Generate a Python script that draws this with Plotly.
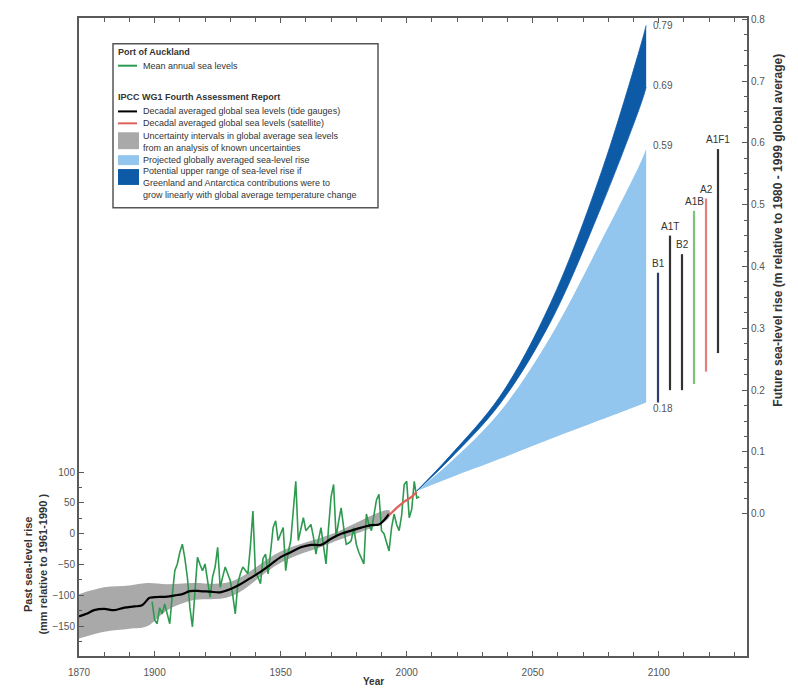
import plotly.graph_objects as go

# ---------------- data ----------------
# Port of Auckland, mean annual sea level (mm relative to 1961-1990)
auck_years = list(range(1899, 2006))
auck_levels = [
    -110, -140, -146, -120, -130, -114, -130, -146, -100, -60,   # 1899-1908
    -49, -30, -17, -40, -71, -120, -151, -90, -38, -50,          # 1909-1918
    -60, -49, -75, -103, -70, -54, -22, -87, -70, -54,           # 1919-1928
    -65, -76, -100, -130, -81, -65, -54, -60, -65, -20,          # 1929-1938
    37, -65, -70, -81, -40, -33, -65, -30, 10, 21,               # 1939-1948
    -11, 0, 10, -60, -30, -11, 40, 85, -11, 10,                  # 1949-1958
    26, 5, 10, 15, -5, -33, -10, 10, -20, -49,                   # 1959-1968
    10, 60, 80, -6, 20, 42, 10, -17, -15, -11,                   # 1969-1978
    10, -17, -30, -40, -49, 32, 15, 5, 30, 55,                   # 1979-1988
    64, 5, 0, -15, -28, 10, 32, 15, 5, 30,                       # 1989-1998
    80, 85, 26, 40, 85, 58, 60,                                  # 1999-2005
]

# IPCC decadal averaged global sea level, tide gauges (mm)
gauge_years = [1870, 1873, 1876, 1880, 1884, 1888, 1892, 1895, 1898, 1900, 1905,
               1908, 1911, 1914, 1918, 1922, 1926, 1930, 1934, 1938, 1942, 1946,
               1950, 1954, 1958, 1962, 1966, 1970, 1974, 1978, 1982, 1986, 1989,
               1991, 1993]
gauge_levels = [-134, -130, -124, -122, -124, -120, -118, -116, -104, -103, -102,
                -100, -98, -93, -93, -94, -95, -90, -82, -72, -62, -50,
                -38, -30, -22, -18, -18, -8, 0, 5, 10, 14, 15,
                22, 32]

# satellite (mm)
sat_years = [1993, 1996, 1999, 2002, 2004]
sat_levels = [30, 42, 52, 60, 68]

# uncertainty interval (mm)
unc_years = [1870, 1880, 1890, 1897, 1905, 1915, 1930, 1950, 1970, 1993]
unc_upper = [-98, -87, -84, -80, -82, -80, -78, -29, -1, 38]
unc_lower = [-170, -159, -154, -150, -124, -108, -102, -47, -15, 26]

# projections (m relative to 1980-1999)
proj_years = [2004, 2017, 2037, 2057, 2077, 2093, 2095]
light_low = [0.037, 0.058, 0.089, 0.121, 0.152, 0.177, 0.18]
light_high = [0.037, 0.082, 0.165, 0.286, 0.44, 0.57, 0.59]
dark_low = [0.037, 0.088, 0.178, 0.31, 0.495, 0.664, 0.69]
dark_high = [0.037, 0.093, 0.19, 0.34, 0.55, 0.76, 0.79]
end_labels = ["0.79", "0.69", "0.59", "0.18"]
end_values = [0.79, 0.69, 0.59, 0.18]

# SRES scenario ranges (m)
scenarios = ["B1", "A1T", "B2", "A1B", "A2", "A1F1"]
scen_low = [0.18, 0.20, 0.20, 0.21, 0.23, 0.26]
scen_high = [0.39, 0.45, 0.42, 0.49, 0.51, 0.59]
scen_colors = ["#2c3e6e", "#333333", "#333333", "#7cc576", "#e57f7f", "#333333"]

x_ticks = [1870, 1900, 1950, 2000, 2050, 2100]
left_ticks = [-150, -100, -50, 0, 50, 100]
right_ticks = [0.0, 0.1, 0.2, 0.3, 0.4, 0.5, 0.6, 0.7, 0.8]

# ---------------- styling ----------------
FONT = "Liberation Sans, Arial, sans-serif"
AX = "#5a5a5a"
GREEN = "#2e9a50"
RED = "#e0605a"
GRAY = "#a9a9a9"
LBLUE = "#92c6ee"
DBLUE = "#0d5aa7"

# page has an 8px body margin; plot area wanted at these page pixels
OFF = 8
PL, PR, PT, PB = 79, 747, 14, 656
W, H = 798, 688


def px(x):
    return (x - PL) / (PR - PL)


def py(y):
    return (PB - y) / (PB - PT)


fig = go.Figure()

# uncertainty band
fig.add_trace(go.Scatter(x=unc_years + unc_years[::-1], y=unc_upper + unc_lower[::-1],
                         fill="toself", fillcolor=GRAY, line=dict(width=0, shape="spline"),
                         mode="lines", hoverinfo="skip"))

# Auckland annual
fig.add_trace(go.Scatter(x=auck_years, y=auck_levels, mode="lines",
                         line=dict(color=GREEN, width=1.6)))
# tide gauge
fig.add_trace(go.Scatter(x=gauge_years, y=gauge_levels, mode="lines",
                         line=dict(color="black", width=2.2, shape="spline")))
# satellite
fig.add_trace(go.Scatter(x=sat_years, y=sat_levels, mode="lines",
                         line=dict(color=RED, width=2.2)))

# projections on right axis
fig.add_trace(go.Scatter(x=proj_years, y=light_low, mode="lines", line=dict(width=0, shape="spline"),
                         yaxis="y2", hoverinfo="skip"))
fig.add_trace(go.Scatter(x=proj_years, y=light_high, mode="lines", line=dict(width=0, shape="spline"),
                         fill="tonexty", fillcolor=LBLUE, yaxis="y2"))
fig.add_trace(go.Scatter(x=proj_years, y=dark_low, mode="lines",
                         line=dict(width=0.8, color=DBLUE, shape="spline"),
                         yaxis="y2", hoverinfo="skip"))
fig.add_trace(go.Scatter(x=proj_years, y=dark_high, mode="lines",
                         line=dict(width=0.8, color=DBLUE, shape="spline"),
                         fill="tonexty", fillcolor=DBLUE, yaxis="y2"))

# scenario bars (own category axis, same vertical scale as right axis)
for name, lo, hi, col in zip(scenarios, scen_low, scen_high, scen_colors):
    fig.add_trace(go.Scatter(x=[name, name], y=[lo, hi], mode="lines",
                             line=dict(color=col, width=2.2),
                             xaxis="x3", yaxis="y3"))

annotations = []
for name, hi in zip(scenarios, scen_high):
    annotations.append(dict(x=name, y=hi, xref="x3", yref="y3", text=name,
                            showarrow=False, yanchor="bottom", yshift=2,
                            font=dict(family=FONT, size=10, color="#333")))

label_shift = {"0.79": 0, "0.69": 2, "0.59": 4, "0.18": -6}
for t, v in zip(end_labels, end_values):
    annotations.append(dict(x=2097, y=v, xref="x", yref="y2", text=t, showarrow=False,
                            xanchor="left", yanchor="middle", yshift=label_shift[t],
                            font=dict(family=FONT, size=10, color="#555")))

# axis titles
annotations.append(dict(x=px(373), y=py(682), xref="paper", yref="paper",
                        text="<b>Year</b>", showarrow=False, xanchor="center",
                        yanchor="middle",
                        font=dict(family=FONT, size=10, color="#333")))
annotations.append(dict(x=px(35), y=py(563), xref="paper", yref="paper",
                        text="<b>Past sea-level rise<br>(mm relative to 1961-1990 )</b>",
                        showarrow=False, textangle=-90, xanchor="center", yanchor="middle",
                        font=dict(family=FONT, size=11, color="#333")))
annotations.append(dict(x=px(778), y=py(228), xref="paper", yref="paper",
                        text="<b>Future sea-level rise (m relative to 1980 - 1999 global average)</b>",
                        showarrow=False, textangle=-90, xanchor="center", yanchor="middle",
                        font=dict(family=FONT, size=12, color="#333")))

# ---------------- legend (drawn) ----------------
shapes = [dict(type="rect", xref="paper", yref="paper",
               x0=px(113), x1=px(378), y0=py(205), y1=py(40),
               line=dict(color="#555", width=1.5), fillcolor="white", layer="above")]

legend_lines = [
    (48, "<b>Port of Auckland</b>", None),
    (62, "Mean annual sea levels", ("line", GREEN)),
    (93, "<b>IPCC WG1 Fourth Assessment Report</b>", None),
    (108, "Decadal averaged global sea levels (tide gauges)", ("line", "black")),
    (120, "Decadal averaged global sea levels (satellite)", ("line", RED)),
    (133, "Uncertainty intervals in global average sea levels", None),
    (145, "from an analysis of known uncertainties", None),
    (157, "Projected globally averaged sea-level rise", None),
    (168, "Potential upper range of sea-level rise if", None),
    (180, "Greenland and Antarctica contributions were to", None),
    (192, "grow linearly with global average temperature change", None),
]
for yy, txt, sym in legend_lines:
    x_text = 116 if txt.startswith("<b>") else 141
    annotations.append(dict(x=px(x_text), y=py(yy), xref="paper", yref="paper",
                            text=txt, showarrow=False, xanchor="left", yanchor="middle",
                            font=dict(family=FONT, size=9, color="#333")))
    if sym:
        shapes.append(dict(type="line", xref="paper", yref="paper",
                           x0=px(118), x1=px(137), y0=py(yy), y1=py(yy),
                           line=dict(color=sym[1], width=2), layer="above"))

for (y0, y1, col) in [(129, 146, GRAY), (152, 162, LBLUE), (166, 182, DBLUE)]:
    shapes.append(dict(type="rect", xref="paper", yref="paper",
                       x0=px(118), x1=px(139), y0=py(y1), y1=py(y0),
                       fillcolor=col, line=dict(width=0), layer="above"))

# ---------------- layout ----------------
Y_RANGE = [-198.4, 837]
Y2_RANGE = [-0.230, 0.802]

fig.update_layout(
    width=W, height=H,
    margin=dict(l=PL - OFF, r=W + OFF - PR, t=PT - OFF, b=H + OFF - PB, pad=0),
    paper_bgcolor="white", plot_bgcolor="rgba(0,0,0,0)",
    showlegend=False,
    font=dict(family=FONT, size=10, color="#555"),
    xaxis=dict(range=[1870, 2135], showline=True, linecolor=AX, linewidth=2,
               mirror="ticks", ticks="inside", ticklen=5, tickcolor=AX, tickwidth=1,
               tickvals=x_ticks, showgrid=False, zeroline=False, ticklabelstandoff=6,
               minor=dict(tickvals=[y for y in range(1880, 2131, 10) if y not in x_ticks],
                          ticks="inside", ticklen=4, tickcolor=AX),
               tickfont=dict(size=10, color="#555")),
    yaxis=dict(range=Y_RANGE, showline=True, linecolor=AX, linewidth=2,
               ticks="inside", ticklen=5, tickcolor=AX, tickvals=left_ticks,
               showgrid=False, zeroline=False,
               minor=dict(tickvals=[-175, -125, -75, -25, 25, 75], ticks="inside",
                          ticklen=3, tickcolor=AX),
               tickfont=dict(size=10, color="#555")),
    yaxis2=dict(range=Y2_RANGE, overlaying="y", side="right", showline=True,
                linecolor=AX, linewidth=2, ticks="inside", ticklen=5, tickcolor=AX,
                tickvals=right_ticks, ticktext=[f"{v:.1f}" for v in right_ticks],
                showgrid=False, zeroline=False,
                minor=dict(tickvals=[round(i * 0.025, 3) for i in range(0, 33) if i % 4],
                           ticks="inside", ticklen=3, tickcolor=AX),
                tickfont=dict(size=10, color="#555")),
    xaxis3=dict(domain=[px(652), px(724)], anchor="y3", type="category",
                range=[-0.5, 5.5], visible=False),
    yaxis3=dict(domain=[0, 1], anchor="x3", range=Y2_RANGE, visible=False),
    shapes=shapes,
    annotations=annotations,
)

fig.write_html("out.html")
